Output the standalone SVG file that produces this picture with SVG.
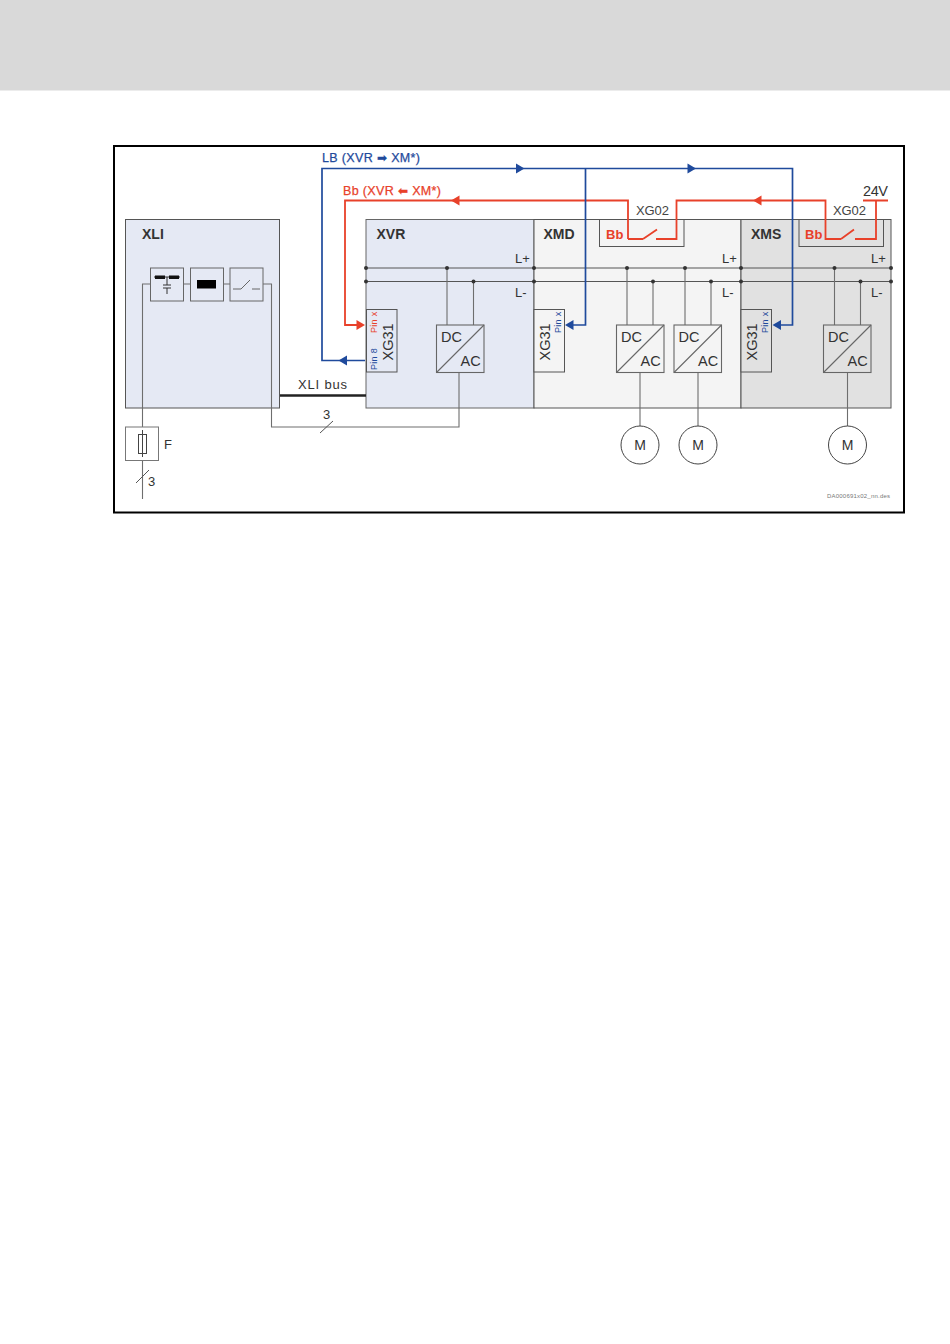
<svg xmlns="http://www.w3.org/2000/svg" width="950" height="1344" viewBox="0 0 950 1344">
<style>
text{font-family:"Liberation Sans",Arial,sans-serif;fill:#333}
.t{font-size:14px}
.b{font-size:14px;font-weight:bold}
.bb{font-size:13px;font-weight:bold;fill:#e8412a}
.lbl{font-size:13px}
.w{stroke:#6e6e6e;stroke-width:1.1;fill:none}
.red{stroke:#e8412a;stroke-width:1.8;fill:none}
.blue{stroke:#1f4a9c;stroke-width:1.7;fill:none}
.rt{fill:#e8412a}
.bt{fill:#1f4a9c}
.dot{fill:#333}
.conv{stroke:#666;stroke-width:1.1;fill:none}
.x31{font-size:14.500px}
.pin{font-size:9px;letter-spacing:.3px}
</style>
<defs>
<g id="conv"><rect x="0" y="0" width="47.500" height="47.500" class="conv"/><path d="M0 47.500L47.500 0" class="conv"/><text x="4.500" y="16.500" style="font-size:14.500px">DC</text><text x="24" y="41" style="font-size:14.500px">AC</text></g>
<path id="ar" d="M-8.500 -5L0 0L-8.500 5Z"/>
</defs>
<rect x="0" y="0" width="950" height="90.500" fill="#d9d9d9"/>
<rect x="114" y="146" width="790" height="366.500" fill="#fff" stroke="#000" stroke-width="2"/>
<g id="xli"><rect x="125.500" y="219.500" width="154" height="188.500" fill="#e5e9f4" stroke="#555"/><text x="142" y="239" class="b">XLI</text>
<rect x="150.500" y="268" width="33" height="33" fill="#e5e9f4" stroke="#666"/><rect x="190.500" y="268" width="33" height="33" fill="#e5e9f4" stroke="#666"/><rect x="230" y="268" width="33" height="33" fill="#e5e9f4" stroke="#666"/>
<path d="M154 277H180M167 277V285M163 285H171M163 288H171M167 288V294" stroke="#333" fill="none"/><rect x="155" y="275.500" width="10" height="3.500" fill="#111"/><rect x="169" y="275.500" width="10" height="3.500" fill="#111"/><rect x="197" y="280" width="19" height="8.500" fill="#000"/>
<path d="M233 289H241L250 280M252 289H260" stroke="#666" fill="none"/></g>
<g id="xvr"><rect x="366" y="219.500" width="168" height="188.500" fill="#e5e9f4" stroke="#666"/><text x="376.500" y="239" class="b">XVR</text></g>
<g id="xmd"><rect x="534" y="219.500" width="207" height="188.500" fill="#f4f4f4" stroke="#555"/><text x="543.500" y="239" class="b">XMD</text></g>
<g id="xms"><rect x="741" y="219.500" width="150" height="188.500" fill="#e1e1e1" stroke="#555"/><text x="751" y="239" class="b">XMS</text></g>
<g id="xg02a"><rect x="599.500" y="219.500" width="84.500" height="27" fill="#f4f4f4" stroke="#555"/><text x="606" y="239" class="bb">Bb</text><text x="636" y="215" class="lbl" textLength="33" style="fill:#444">XG02</text></g>
<g id="xg02b"><rect x="799" y="219.500" width="84.500" height="27" fill="#e1e1e1" stroke="#555"/><text x="805" y="239" class="bb">Bb</text><text x="833" y="215" class="lbl" textLength="33" style="fill:#444">XG02</text></g>
<g id="connectors">
<path d="M366 268H891M366 281.500H891" stroke="#555" fill="none"/>
<path d="M447 268V325M473.500 281.500V325M627 268V325M653 281.500V325M685 268V325M711 281.500V325M834.500 268V325M860.500 281.500V325" class="w"/>
<g class="dot"><circle cx="366" cy="268" r="2"/><circle cx="366" cy="281.500" r="2"/><circle cx="447" cy="268" r="2"/><circle cx="473.500" cy="281.500" r="2"/><circle cx="534" cy="268" r="2"/><circle cx="534" cy="281.500" r="2"/><circle cx="627" cy="268" r="2"/><circle cx="653" cy="281.500" r="2"/><circle cx="685" cy="268" r="2"/><circle cx="711" cy="281.500" r="2"/><circle cx="741" cy="268" r="2"/><circle cx="741" cy="281.500" r="2"/><circle cx="834.500" cy="268" r="2"/><circle cx="860.500" cy="281.500" r="2"/><circle cx="891" cy="268" r="2"/><circle cx="891" cy="281.500" r="2"/></g>
<path d="M150.500 284H142.500V427M183.500 284H190.500M223.500 284H230M263 284H271.500V427H459V372.500M142.500 460V499M640 372.500V426M698 372.500V426M847.500 372.500V426" class="w"/>
<path d="M320 433L333 421M136 483L149 470" stroke="#555" fill="none"/>
<path d="M280 395.500H366" stroke="#222" stroke-width="2.500"/>
<path d="M628 239V200.500H345V325H358M876 200.500V239H855M841 239L854 229.500M841 239H825.500V200.500H676.500V239H656M643 239L657 229.500M643 239H628M863 200.500H888" class="red"/>
<use href="#ar" x="365" y="325" class="rt"/>
<use href="#ar" x="451" y="200.500" transform="rotate(180 451 200.500)" class="rt"/>
<use href="#ar" x="753" y="200.500" transform="rotate(180 753 200.500)" class="rt"/>
<path d="M365 360.500H322V168.500H792.500V325H780M585.500 168.500V325H573" class="blue"/>
<use href="#ar" x="524.500" y="168.500" class="bt"/><use href="#ar" x="696" y="168.500" class="bt"/>
<use href="#ar" x="338.500" y="360.500" transform="rotate(180 338.500 360.500)" class="bt"/>
<use href="#ar" x="565" y="325" transform="rotate(180 565 325)" class="bt"/>
<use href="#ar" x="772.500" y="325" transform="rotate(180 772.500 325)" class="bt"/>
</g>
<g id="xg31a"><rect x="366.500" y="309.500" width="30.500" height="62.500" fill="#e5e9f4" stroke="#555"/><text transform="translate(393,360.500) rotate(-90)" class="x31">XG31</text><text transform="translate(377,333) rotate(-90)" class="pin" style="fill:#e8412a">Pin x</text><text transform="translate(377,370) rotate(-90)" class="pin" style="fill:#1f4a9c">Pin 8</text></g>
<g id="xg31b"><rect x="534" y="309.500" width="30.500" height="62.500" fill="#f4f4f4" stroke="#555"/><text transform="translate(550,360.500) rotate(-90)" class="x31">XG31</text><text transform="translate(561,333) rotate(-90)" class="pin" style="fill:#1f4a9c">Pin x</text></g>
<g id="xg31c"><rect x="741" y="309.500" width="30.500" height="62.500" fill="#e1e1e1" stroke="#555"/><text transform="translate(757,360.500) rotate(-90)" class="x31">XG31</text><text transform="translate(768,333) rotate(-90)" class="pin" style="fill:#1f4a9c">Pin x</text></g>
<g id="conv1"><use href="#conv" x="436.500" y="325"/></g>
<g id="conv2"><use href="#conv" x="616.500" y="325"/></g>
<g id="conv3"><use href="#conv" x="674" y="325"/></g>
<g id="conv4"><use href="#conv" x="823.500" y="325"/></g>
<g id="m1"><circle cx="640" cy="445" r="19" fill="#fff" stroke="#444"/><text x="640" y="450" text-anchor="middle" class="t">M</text></g>
<g id="m2"><circle cx="698" cy="445" r="19" fill="#fff" stroke="#444"/><text x="698" y="450" text-anchor="middle" class="t">M</text></g>
<g id="m3"><circle cx="847.500" cy="445" r="19" fill="#fff" stroke="#444"/><text x="847.500" y="450" text-anchor="middle" class="t">M</text></g>
<g id="fuse"><rect x="125.500" y="427" width="33" height="33.500" fill="#fff" stroke="#777"/><rect x="138.500" y="434.500" width="8" height="19" fill="#fff" stroke="#444"/><path d="M142.500 430V457" stroke="#444"/><text x="164" y="449" class="lbl">F</text></g>
<g id="labels">
<text x="322" y="162" style="font-size:12.500px;fill:#1f4a9c;stroke:#1f4a9c;stroke-width:.25" textLength="98" lengthAdjust="spacing">LB (XVR <tspan style="font-family:'DejaVu Sans',sans-serif;font-size:12px">➡</tspan> XM*)</text>
<text x="343" y="195" style="font-size:12.500px;fill:#e8412a;stroke:#e8412a;stroke-width:.25" textLength="98" lengthAdjust="spacing">Bb (XVR <tspan style="font-family:'DejaVu Sans',sans-serif;font-size:12px">⬅</tspan> XM*)</text>
<text x="298" y="389" class="lbl" textLength="49">XLI bus</text><text x="323" y="419" class="lbl">3</text><text x="148" y="486" class="lbl">3</text>
<text x="863" y="196" style="font-size:14.500px" textLength="25">24V</text>
<text x="515" y="263" class="lbl">L+</text><text x="515" y="297" class="lbl">L-</text><text x="722" y="263" class="lbl">L+</text><text x="722" y="297" class="lbl">L-</text><text x="871" y="263" class="lbl">L+</text><text x="871" y="297" class="lbl">L-</text>
<text x="827" y="498" style="font-size:6px;fill:#777" textLength="63">DA000691x02_nn.des</text>
</g>
</svg>
